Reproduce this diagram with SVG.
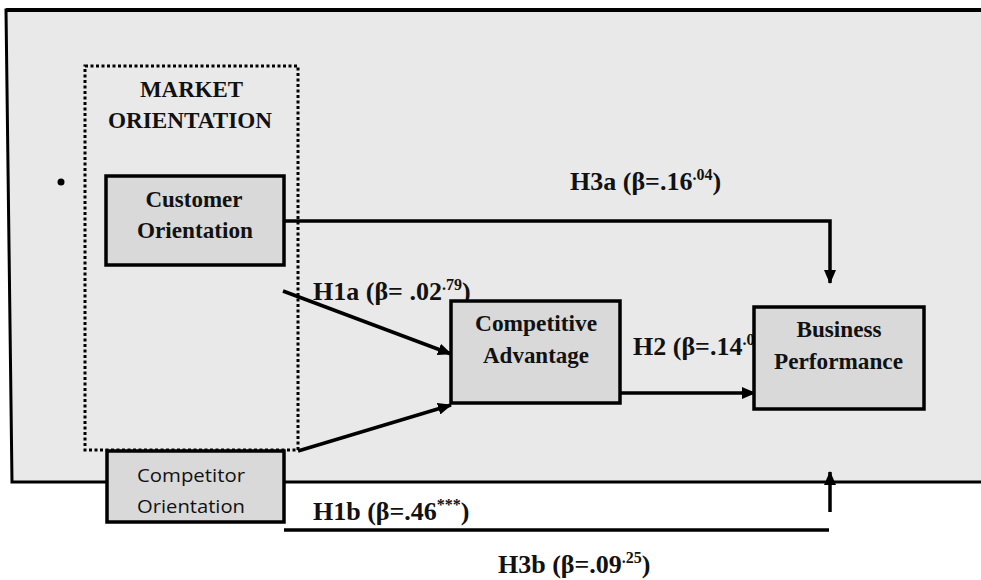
<svg xmlns="http://www.w3.org/2000/svg" width="981" height="580" viewBox="0 0 981 580">
<style>
.bg{fill:#e9e9e9;stroke:#000;stroke-width:3}
.node{fill:#d9d9d9;stroke:#000;stroke-width:3.5}
.dot{fill:none;stroke:#000;stroke-width:3;stroke-dasharray:3 2.5}
.ser{font-family:"Liberation Serif","Times New Roman",serif;font-weight:bold;fill:#111}
.nt{font-size:23px;text-anchor:middle}
.lab{font-size:26px}
.sup{font-size:16px}
.sans{font-family:"Open Sans","Noto Sans","Liberation Sans",sans-serif;font-size:19px;fill:#111;text-anchor:middle}
.con{fill:none;stroke:#000;stroke-width:3.5}
</style>
<defs>
<marker id="ah" markerUnits="userSpaceOnUse" markerWidth="14" markerHeight="12" refX="13" refY="6" orient="auto">
<path d="M0,0 L14,6 L0,12 Z" fill="#000"/>
</marker>
</defs>
<rect width="981" height="580" fill="#fff"/>
<polygon class="bg" points="6,10 992,10 992,482 12,482"/>
<line x1="6" y1="10" x2="981" y2="10" stroke="#000" stroke-width="4"/>
<g id="market-orientation">
<rect class="dot" x="85" y="66" width="213" height="384"/>
<text class="ser nt" x="191.5" y="97" textLength="103" lengthAdjust="spacingAndGlyphs">MARKET</text>
<text class="ser nt" x="190" y="128" textLength="164" lengthAdjust="spacingAndGlyphs">ORIENTATION</text>
</g>
<circle cx="61" cy="182" r="3.5" fill="#000"/>
<g id="connectors">
<path class="con" d="M284,221 H830 V283" marker-end="url(#ah)"/>
<line class="con" x1="283" y1="291" x2="451" y2="354" marker-end="url(#ah)"/>
<line class="con" x1="298" y1="451" x2="451" y2="405" marker-end="url(#ah)"/>
<line class="con" x1="620" y1="393" x2="755" y2="393" marker-end="url(#ah)"/>
<line class="con" x1="284" y1="530" x2="829" y2="530"/>
<line class="con" x1="830" y1="512" x2="830" y2="472" marker-end="url(#ah)"/>
</g>
<g id="labels">
<text class="ser lab" x="570" y="190">H3a (β=.16<tspan class="sup" dy="-10">.04</tspan><tspan dy="10">)</tspan></text>
<text class="ser lab" x="313" y="300">H1a (β= .02<tspan class="sup" dy="-10">.79</tspan><tspan dy="10">)</tspan></text>
<text class="ser lab" x="633" y="355">H2 (β=.14<tspan class="sup" dy="-10">.0</tspan></text>
<text class="ser lab" x="313" y="520">H1b (β=.46<tspan class="sup" dy="-10">***</tspan><tspan dy="10">)</tspan></text>
<text class="ser lab" x="498" y="573">H3b (β=.09<tspan class="sup" dy="-10">.25</tspan><tspan dy="10">)</tspan></text>
</g>
<g id="customer-orientation">
<rect class="node" x="106" y="176" width="178" height="89"/>
<text class="ser nt" x="194" y="207" textLength="97" lengthAdjust="spacingAndGlyphs">Customer</text>
<text class="ser nt" x="195" y="238" textLength="116" lengthAdjust="spacingAndGlyphs">Orientation</text>
</g>
<g id="competitive-advantage">
<rect class="node" x="451" y="301" width="169" height="102"/>
<text class="ser nt" x="536" y="331" textLength="122" lengthAdjust="spacingAndGlyphs">Competitive</text>
<text class="ser nt" x="536" y="363" textLength="106" lengthAdjust="spacingAndGlyphs">Advantage</text>
</g>
<g id="business-performance">
<rect class="node" x="754" y="307" width="170" height="102"/>
<text class="ser nt" x="839" y="337" textLength="85" lengthAdjust="spacingAndGlyphs">Business</text>
<text class="ser nt" x="838.5" y="369" textLength="129" lengthAdjust="spacingAndGlyphs">Performance</text>
</g>
<g id="competitor-orientation">
<rect class="node" x="107" y="451" width="177" height="71" stroke-width="3"/>
<text class="sans" x="191" y="482" textLength="108" lengthAdjust="spacingAndGlyphs">Competitor</text>
<text class="sans" x="191" y="513" textLength="108" lengthAdjust="spacingAndGlyphs">Orientation</text>
</g>
</svg>
